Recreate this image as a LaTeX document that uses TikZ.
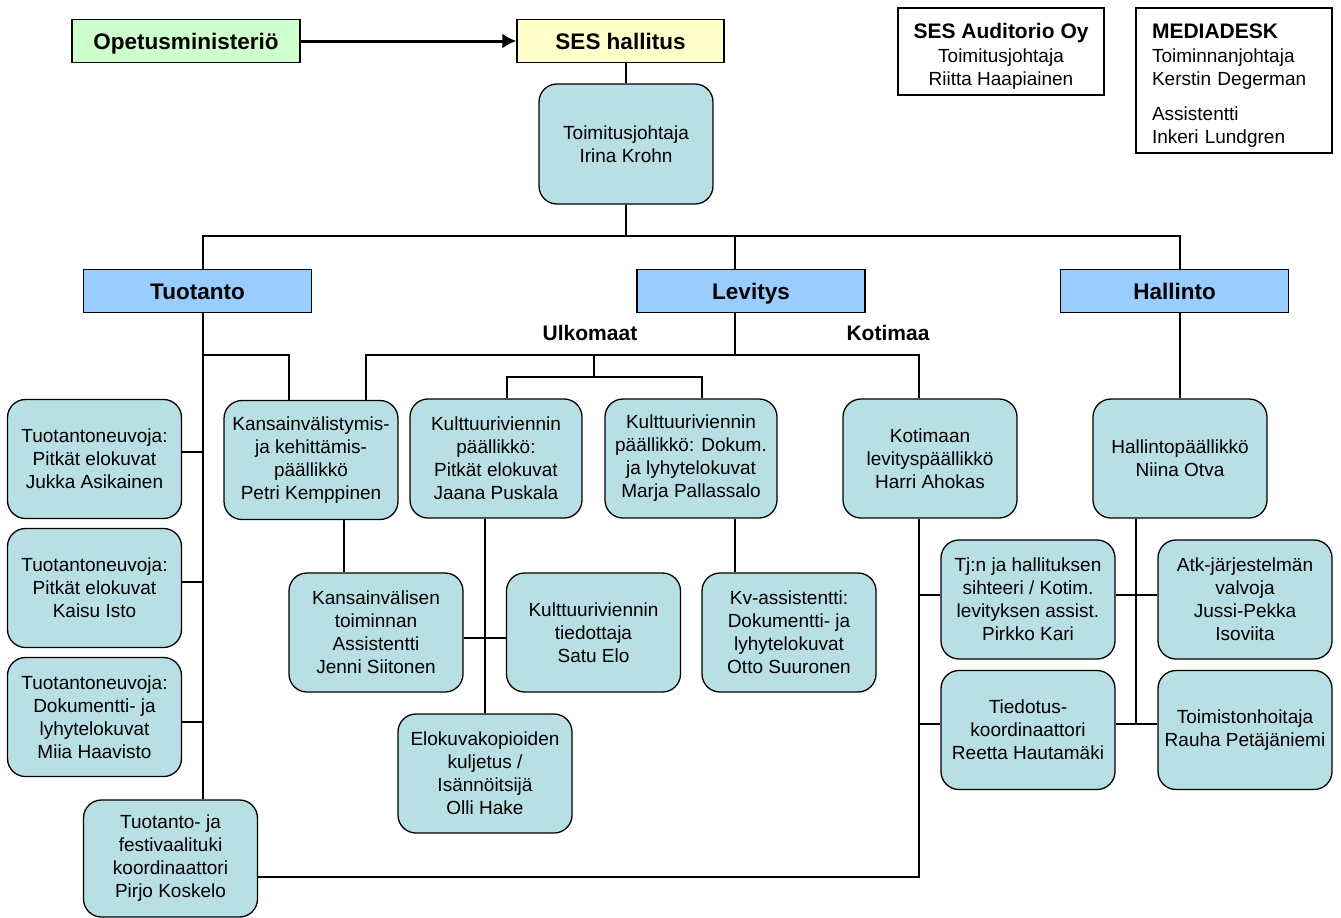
\documentclass[tikz,border=0pt]{standalone}
\usepackage{fontspec}
\setmainfont{Liberation Sans}
\usetikzlibrary{arrows.meta}
\definecolor{boxteal}{RGB}{184,223,227}
\definecolor{headblue}{RGB}{153,204,255}
\definecolor{omgreen}{RGB}{204,255,204}
\definecolor{sesyellow}{RGB}{255,255,204}
\begin{document}
\begin{tikzpicture}[x=1pt,y=-1pt,line width=1.3pt,
person/.style={draw,rounded corners=18pt,fill=boxteal,minimum width=174pt,minimum height=119pt,inner sep=2pt,align=center,font=\fontsize{19}{23}\selectfont},
head/.style={draw,fill=headblue,minimum width=228pt,minimum height=43pt,inner sep=0pt,text height=19pt,text depth=2pt,font=\fontsize{22.5}{27}\selectfont\bfseries},
infobox/.style={draw,fill=white,inner sep=0pt,font=\fontsize{19}{23}\selectfont},
branch/.style={font=\fontsize{21}{25}\selectfont\bfseries}]
\useasboundingbox (0,0) rectangle (1341,918);

\node[head,fill=omgreen] (OM) at (186,41) {Opetusministeriö};
\node[head,fill=sesyellow,minimum width=207pt] (SH) at (620.5,41) {SES hallitus};
\node[person,minimum height=120pt] (TJ) at (626,144) {Toimitusjohtaja\\Irina Krohn};
\node[infobox,minimum width=206pt,minimum height=87pt,align=center] (AU) at (1001,51.5) {{\fontsize{21}{23}\selectfont\bfseries\rule{0pt}{24pt}SES Auditorio Oy}\\[1pt]Toimitusjohtaja\\Riitta Haapiainen};
\node[infobox,text width=164pt,inner xsep=16pt,minimum height=145pt,align=left] (MD) at (1234,80.5) {{\fontsize{21}{23}\selectfont\bfseries\rule{0pt}{24pt}MEDIADESK}\\[1pt]Toiminnanjohtaja\\Kerstin Degerman\\[12pt]Assistentti\\Inkeri Lundgren};

\node[head] (TU) at (197.5,291) {Tuotanto};
\node[head] (LE) at (751,291) {Levitys};
\node[head] (HA) at (1174.5,291) {Hallinto};
\node[branch] (UL) at (590,333) {Ulkomaat};
\node[branch] (KO) at (888,333) {Kotimaa};

\node[person] (JA) at (94.5,459) {Tuotantoneuvoja:\\Pitkät elokuvat\\Jukka Asikainen};
\node[person] (KI) at (94.5,588) {Tuotantoneuvoja:\\Pitkät elokuvat\\Kaisu Isto};
\node[person] (MH) at (94.5,717) {Tuotantoneuvoja:\\Dokumentti- ja\\lyhytelokuvat\\Miia Haavisto};
\node[person,minimum height=117pt] (PK) at (170.5,858.5) {Tuotanto- ja\\festivaalituki\\koordinaattori\\Pirjo Koskelo};

\node[person] (PE) at (311,460) {Kansainvälistymis-\\ja kehittämis-\\päällikkö\\Petri Kemppinen};
\node[person,minimum width=172pt] (JP) at (496,458.5) {Kulttuuriviennin\\päällikkö:\\Pitkät elokuvat\\Jaana Puskala};
\node[person,minimum width=172pt] (MP) at (691,458.5) {Kulttuuriviennin\\päällikkö: Dokum.\\ja lyhytelokuvat\\Marja Pallassalo};
\node[person] (HR) at (930,458.5) {Kotimaan\\levityspäällikkö\\Harri Ahokas};
\node[person] (NO) at (1180,458.5) {Hallintopäällikkö\\Niina Otva};

\node[person] (JS) at (376,632.5) {Kansainvälisen\\toiminnan\\Assistentti\\Jenni Siitonen};
\node[person] (SE) at (593.5,632.5) {Kulttuuriviennin\\tiedottaja\\Satu Elo};
\node[person] (OS) at (789,632.5) {Kv-assistentti:\\Dokumentti- ja\\lyhytelokuvat\\Otto Suuronen};
\node[person] (OH) at (485,773.5) {Elokuvakopioiden\\kuljetus /\\Isännöitsijä\\Olli Hake};

\node[person] (PI) at (1028,599.5) {Tj:n ja hallituksen\\sihteeri / Kotim.\\levityksen assist.\\Pirkko Kari};
\node[person] (RH) at (1028,730) {Tiedotus-\\koordinaattori\\Reetta Hautamäki};
\node[person] (JI) at (1245,599.5) {Atk-järjestelmän\\valvoja\\Jussi-Pekka\\Isoviita};
\node[person] (RP) at (1245,730) {Toimistonhoitaja\\Rauha Petäjäniemi};

\coordinate (bus) at (0,236);
\coordinate (tux) at (203,0);
\coordinate (lex) at (735,0);
\coordinate (hax) at (1180,0);
\coordinate (c1) at (203,452);
\coordinate (c2) at (203,582);
\coordinate (c3) at (203,722);
\coordinate (c4) at (289,355);
\coordinate (c5) at (366,355);
\coordinate (c6) at (919,355);
\coordinate (c7) at (0,877);
\coordinate (c8) at (594,355);
\coordinate (c9) at (507,377);
\coordinate (c10) at (702,377);
\coordinate (c11) at (344,0);
\coordinate (c12) at (0,638);
\coordinate (c13) at (735,0);
\coordinate (c14) at (919,595);
\coordinate (c15) at (919,724);
\coordinate (c16) at (1136,595);
\coordinate (c17) at (1136,724);

\draw[-{Latex[length=14pt,width=15pt]},line width=3pt] (OM) -- (SH);
\draw (SH.south -| TJ.north) -- (TJ.north);
\draw (TJ.south) -- (TJ.south |- bus);
\draw (tux |- TU.north) |- (hax |- bus) -- (hax |- HA.north);
\draw (lex |- bus) -- (lex |- LE.north);

\draw (tux |- TU.south) -- (tux |- PK.north);
\draw (JA.east |- c1) -- (c1);
\draw (KI.east |- c2) -- (c2);
\draw (MH.east |- c3) -- (c3);
\draw (tux |- c4) -- (c4) -- (c4 |- PE.north);

\draw (lex |- LE.south) -- (lex |- c5);
\draw (c5 |- PE.north) -- (c5) -- (c6) -- (c6 |- HR.north);
\draw (c6 |- HR.south) |- (PK.east |- c7);
\draw (c8) -- (c8 |- c9);
\draw (c9 |- JP.north) -- (c9) -- (c10) -- (c10 |- MP.north);

\draw (c11 |- PE.south) -- (c11 |- JS.north);
\draw (OH.north |- JP.south) -- (OH.north);
\draw (JS.east |- c12) -- (SE.west |- c12);
\draw (c13 |- MP.south) -- (c13 |- OS.north);

\draw (c14) -- (PI.west |- c14);
\draw (c15) -- (RH.west |- c15);
\draw (hax |- HA.south) -- (NO.north);
\draw (c16 |- NO.south) -- (c17);
\draw (PI.east |- c16) -- (JI.west |- c16);
\draw (RH.east |- c17) -- (RP.west |- c17);

\end{tikzpicture}
\end{document}
